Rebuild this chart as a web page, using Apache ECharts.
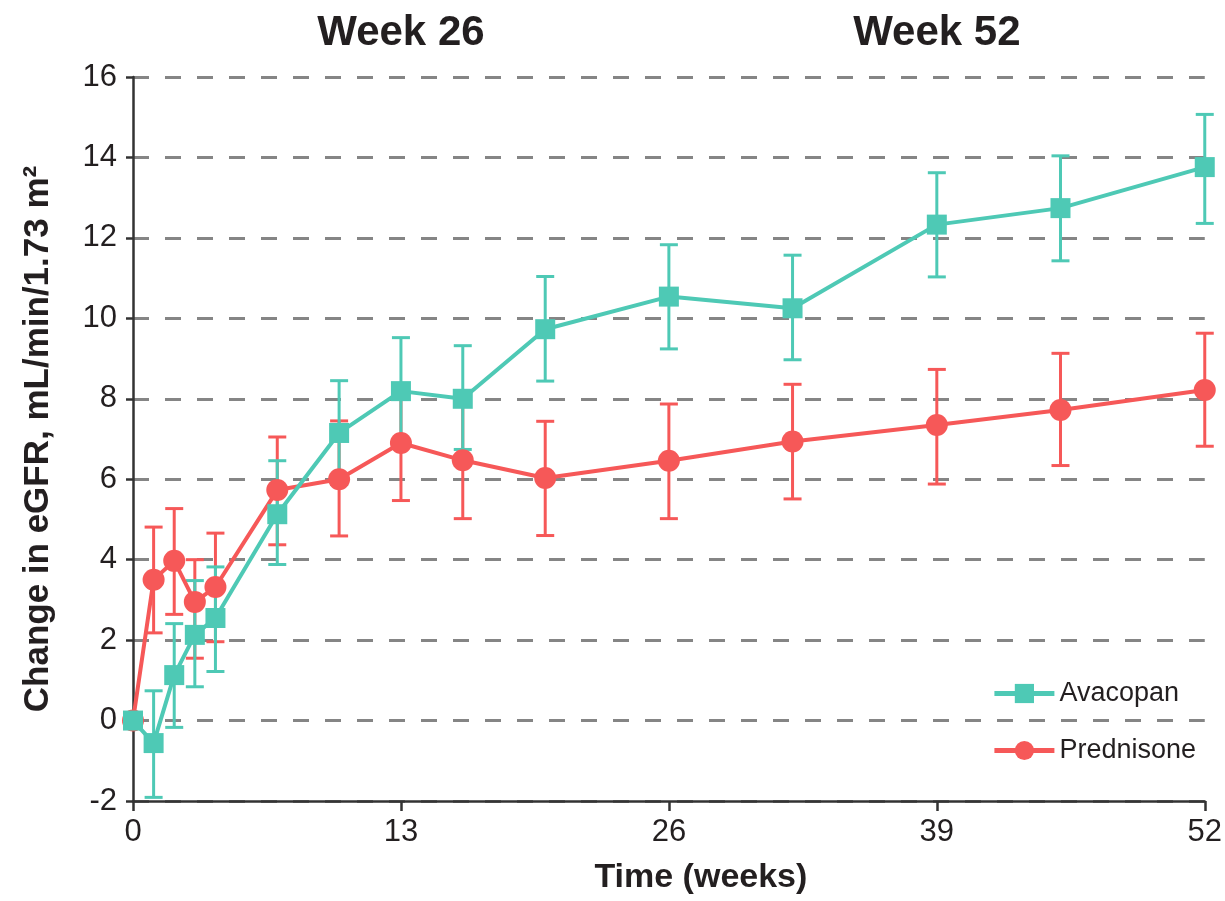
<!DOCTYPE html>
<html>
<head>
<meta charset="utf-8">
<script src="https://cdn.jsdelivr.net/npm/echarts@6/dist/echarts.min.js"></script>
<style>
  html, body { margin: 0; padding: 0; background: #fff; }
  #main { width: 1225px; height: 901px; }
</style>
</head>
<body>
<div id="main"></div>
<script>
// time points (weeks)
var weeks = [0, 1, 2, 3, 4, 7, 10, 13, 16, 20, 26, 32, 39, 45, 52];

// Avacopan: mean change and error bar ends
var avacopanMean  = [0, -0.56, 1.13, 2.13, 2.55, 5.13, 7.15, 8.19, 8.0, 9.73, 10.54, 10.25, 12.33, 12.74, 13.76];
var avacopanUpper = [null, 0.74, 2.41, 3.48, 3.82, 6.46, 8.45, 9.52, 9.32, 11.04, 11.83, 11.57, 13.62, 14.04, 15.07];
var avacopanLower = [null, -1.91, -0.17, 0.84, 1.22, 3.88, 5.87, 6.9, 6.74, 8.44, 9.24, 8.97, 11.03, 11.43, 12.36];

// Prednisone
var prednisoneMean  = [0, 3.5, 3.97, 2.95, 3.32, 5.73, 6.0, 6.9, 6.47, 6.03, 6.46, 6.94, 7.35, 7.72, 8.22];
var prednisoneUpper = [null, 4.81, 5.27, 4.0, 4.66, 7.05, 7.45, 8.3, 7.9, 7.44, 7.87, 8.36, 8.73, 9.13, 9.63];
var prednisoneLower = [null, 2.18, 2.64, 1.55, 1.96, 4.37, 4.59, 5.47, 5.02, 4.6, 5.02, 5.51, 5.88, 6.34, 6.82];

// labels over the top of the plot, keyed by the week they sit above
var topLabels = { 13: 'Week 26', 39: 'Week 52' };

var teal = '#4ec9b5';
var red = '#f65858';
var font = "'Liberation Sans', Arial, sans-serif";

function pairs(means) {
  return weeks.map(function (w, i) { return [w, means[i]]; });
}

function bars(lower, upper) {
  var out = [];
  weeks.forEach(function (w, i) {
    if (lower[i] != null && upper[i] != null) out.push([w, lower[i], upper[i]]);
  });
  return out;
}

function errorBar(color) {
  return function (params, api) {
    var lo = api.coord([api.value(0), api.value(1)]);
    var hi = api.coord([api.value(0), api.value(2)]);
    var half = 9;
    var style = { stroke: color, lineWidth: 3 };
    return {
      type: 'group',
      children: [
        { type: 'line', shape: { x1: hi[0], y1: hi[1], x2: lo[0], y2: lo[1] }, style: style },
        { type: 'line', shape: { x1: hi[0] - half, y1: hi[1], x2: hi[0] + half, y2: hi[1] }, style: style },
        { type: 'line', shape: { x1: lo[0] - half, y1: lo[1], x2: lo[0] + half, y2: lo[1] }, style: style }
      ]
    };
  };
}

var chart = echarts.init(document.getElementById('main'));

var option = {
  backgroundColor: '#ffffff',
  animation: false,
  textStyle: { fontFamily: font },
  grid: { left: 133, right: 20, top: 77, bottom: 100 },
  legend: {
    orient: 'vertical',
    right: 24,
    top: 675,
    itemWidth: 60,
    itemHeight: 24,
    itemGap: 30,
    data: ['Avacopan', 'Prednisone'],
    lineStyle: { width: 5 },
    textStyle: { fontSize: 27, color: '#231f20', fontFamily: font }
  },
  xAxis: [{
    type: 'value',
    min: 0,
    max: 52,
    interval: 13,
    name: 'Time (weeks)',
    nameLocation: 'middle',
    nameGap: 60,
    nameTextStyle: { fontSize: 34, fontWeight: 'bold', color: '#231f20', padding: [0, 0, 0, 64] },
    axisLine: { show: true, onZero: false, lineStyle: { color: '#333', width: 2.5 } },
    axisTick: { show: true, length: 10, lineStyle: { color: '#333', width: 2.5 } },
    axisLabel: { fontSize: 31, color: '#231f20', margin: 16 },
    splitLine: { show: false }
  }, {
    type: 'value',
    position: 'top',
    min: 0,
    max: 52,
    interval: 13,
    axisLine: { show: false },
    axisTick: { show: false },
    splitLine: { show: false },
    axisLabel: {
      fontSize: 42,
      fontWeight: 'bold',
      color: '#231f20',
      margin: 23,
      formatter: function (v) { return topLabels[v] || ''; }
    }
  }],
  yAxis: {
    type: 'value',
    min: -2,
    max: 16,
    interval: 2,
    name: 'Change in eGFR, mL/min/1.73 m\u00b2',
    nameLocation: 'middle',
    nameGap: 77,
    nameTextStyle: { fontSize: 35, fontWeight: 'bold', color: '#231f20', padding: [0, 0, 0, 0] },
    axisLine: { show: true, onZero: false, lineStyle: { color: '#333', width: 2.5 } },
    axisTick: { show: true, length: 7, lineStyle: { color: '#333', width: 2.5 } },
    axisLabel: { fontSize: 31, color: '#231f20', margin: 16 },
    splitLine: { show: true, lineStyle: { color: '#858585', width: 3, type: [16, 16] } }
  },
  series: [
    {
      type: 'custom',
      name: 'Prednisone error',
      renderItem: errorBar(red),
      encode: { x: 0, y: [1, 2] },
      data: bars(prednisoneLower, prednisoneUpper),
      z: 1,
      silent: true
    },
    {
      type: 'custom',
      name: 'Avacopan error',
      renderItem: errorBar(teal),
      encode: { x: 0, y: [1, 2] },
      data: bars(avacopanLower, avacopanUpper),
      z: 1,
      silent: true
    },
    {
      type: 'line',
      name: 'Prednisone',
      data: pairs(prednisoneMean),
      symbol: 'circle',
      symbolSize: 22,
      lineStyle: { color: red, width: 4 },
      itemStyle: { color: red },
      z: 3
    },
    {
      type: 'line',
      name: 'Avacopan',
      data: pairs(avacopanMean),
      symbol: 'rect',
      symbolSize: 20,
      lineStyle: { color: teal, width: 4 },
      itemStyle: { color: teal },
      z: 4
    }
  ]
};

chart.setOption(option);
</script>
</body>
</html>
